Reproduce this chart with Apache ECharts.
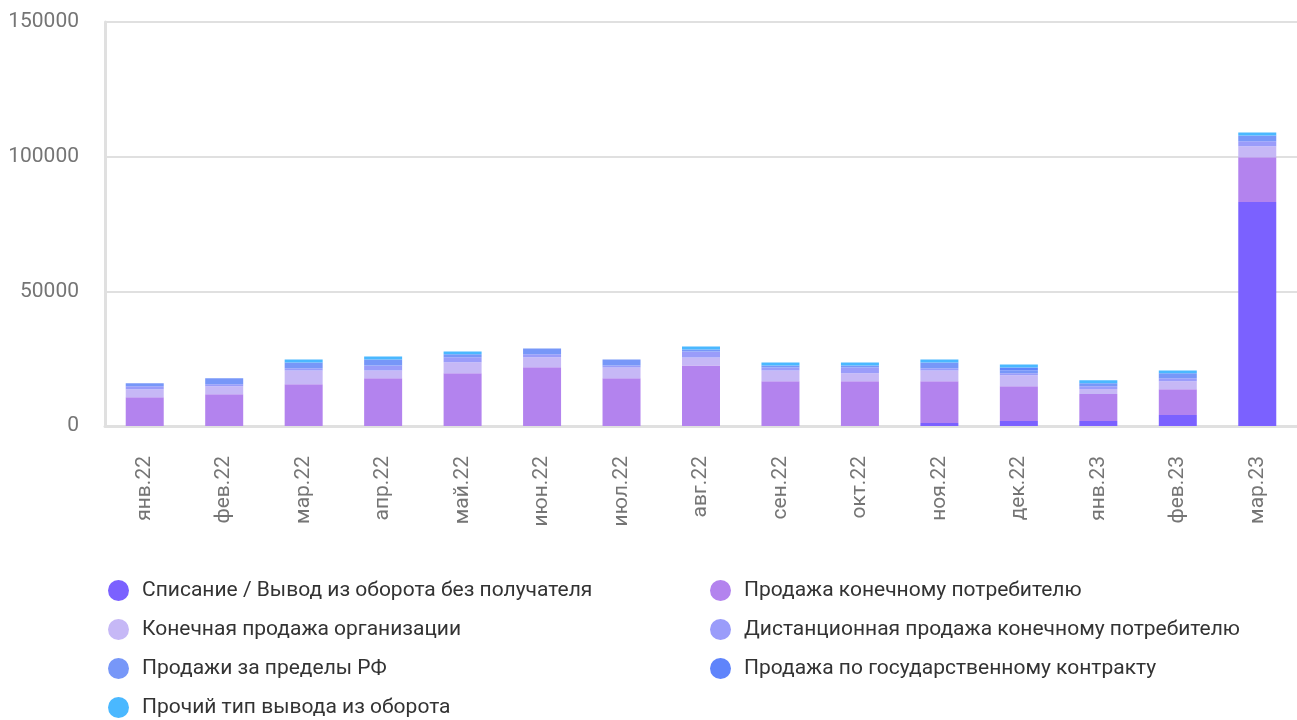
<!DOCTYPE html>
<html>
<head>
<meta charset="utf-8">
<script src="https://cdn.jsdelivr.net/npm/echarts@6/dist/echarts.min.js"></script>
<style>
  html, body { margin: 0; padding: 0; background: #fff; }
  #chart { width: 1297px; height: 720px; }
</style>
</head>
<body>
<div id="chart"></div>
<script>
  const months = ['янв.22', 'фев.22', 'мар.22', 'апр.22', 'май.22', 'июн.22', 'июл.22', 'авг.22',
    'сен.22', 'окт.22', 'ноя.22', 'дек.22', 'янв.23', 'фев.23', 'мар.23']

  // значения по типам вывода из оборота
  const writeOff = [0, 0, 0, 0, 0, 0, 0, 0, 0, 0, 1100, 1850, 1850, 4050, 83200]
  const retail = [10700, 11800, 15500, 17700, 19600, 21800, 17700, 22500, 16600, 16600, 15500, 12900, 10000, 9600, 16600]
  const orgSale = [2950, 2950, 5150, 2950, 4050, 3700, 4050, 2950, 4050, 2950, 4050, 4050, 1850, 2950, 4050]
  const remote = [1100, 750, 750, 1850, 1850, 1100, 750, 2200, 1100, 2200, 750, 750, 1100, 1100, 1850]
  const abroad = [1100, 2200, 2200, 2200, 1100, 2200, 2200, 750, 750, 750, 2200, 1100, 1100, 1850, 2200]
  const govContract = [0, 0, 0, 0, 0, 0, 0, 0, 0, 0, 0, 1100, 0, 0, 0]
  const other = [0, 0, 1100, 1100, 1100, 0, 0, 1100, 1100, 1100, 1100, 1100, 1100, 1100, 1100]

  const yTicks = [0, 50000, 100000, 150000]

  const seriesList = [
    { name: 'Списание / Вывод из оборота без получателя', data: writeOff, color: '#7b61ff' },
    { name: 'Продажа конечному потребителю', data: retail, color: '#b383ee' },
    { name: 'Конечная продажа организации', data: orgSale, color: '#c6b8f6' },
    { name: 'Дистанционная продажа конечному потребителю', data: remote, color: '#9a9cfa' },
    { name: 'Продажи за пределы РФ', data: abroad, color: '#7797f8' },
    { name: 'Продажа по государственному контракту', data: govContract, color: '#5f84fb' },
    { name: 'Прочий тип вывода из оборота', data: other, color: '#4ab8ff' }
  ]

  const legendText = { fontFamily: 'Roboto', fontSize: 21, color: '#333', padding: [0, 0, 0, 8] }
  const legendBase = {
    orient: 'vertical',
    top: 575,
    height: 160,
    icon: 'circle',
    itemWidth: 21,
    itemHeight: 21,
    itemGap: 18,
    textStyle: legendText,
    selectedMode: false
  }

  const chart = echarts.init(document.getElementById('chart'))
  chart.setOption({
    backgroundColor: '#fff',
    animation: false,
    textStyle: { fontFamily: 'Roboto' },
    grid: { left: 105, right: 0, top: 22, height: 404 },
    legend: [
      Object.assign({}, legendBase, {
        left: 103,
        data: [seriesList[0].name, seriesList[2].name, seriesList[4].name, seriesList[6].name]
      }),
      Object.assign({}, legendBase, {
        left: 705,
        data: [seriesList[1].name, seriesList[3].name, seriesList[5].name]
      })
    ],
    xAxis: {
      type: 'category',
      data: months,
      axisLine: { show: true, lineStyle: { color: '#e0e0e0', width: 3 } },
      axisTick: { show: false },
      axisLabel: {
        rotate: 90,
        margin: 30,
        fontSize: 21,
        color: '#757575',
        fontFamily: 'Roboto'
      }
    },
    yAxis: {
      type: 'value',
      min: yTicks[0],
      max: yTicks[yTicks.length - 1],
      interval: 50000,
      axisLine: { show: true, lineStyle: { color: '#e0e0e0', width: 3 } },
      axisTick: { show: false },
      splitLine: { show: true, lineStyle: { color: '#e0e0e0', width: 2 } },
      axisLabel: {
        margin: 26,
        fontSize: 21,
        color: '#757575',
        fontFamily: 'Roboto',
        formatter: v => String(v)
      }
    },
    series: seriesList.map(s => ({
      name: s.name,
      type: 'bar',
      stack: 'total',
      barWidth: 38,
      data: s.data,
      itemStyle: { color: s.color }
    }))
  })
</script>
</body>
</html>
